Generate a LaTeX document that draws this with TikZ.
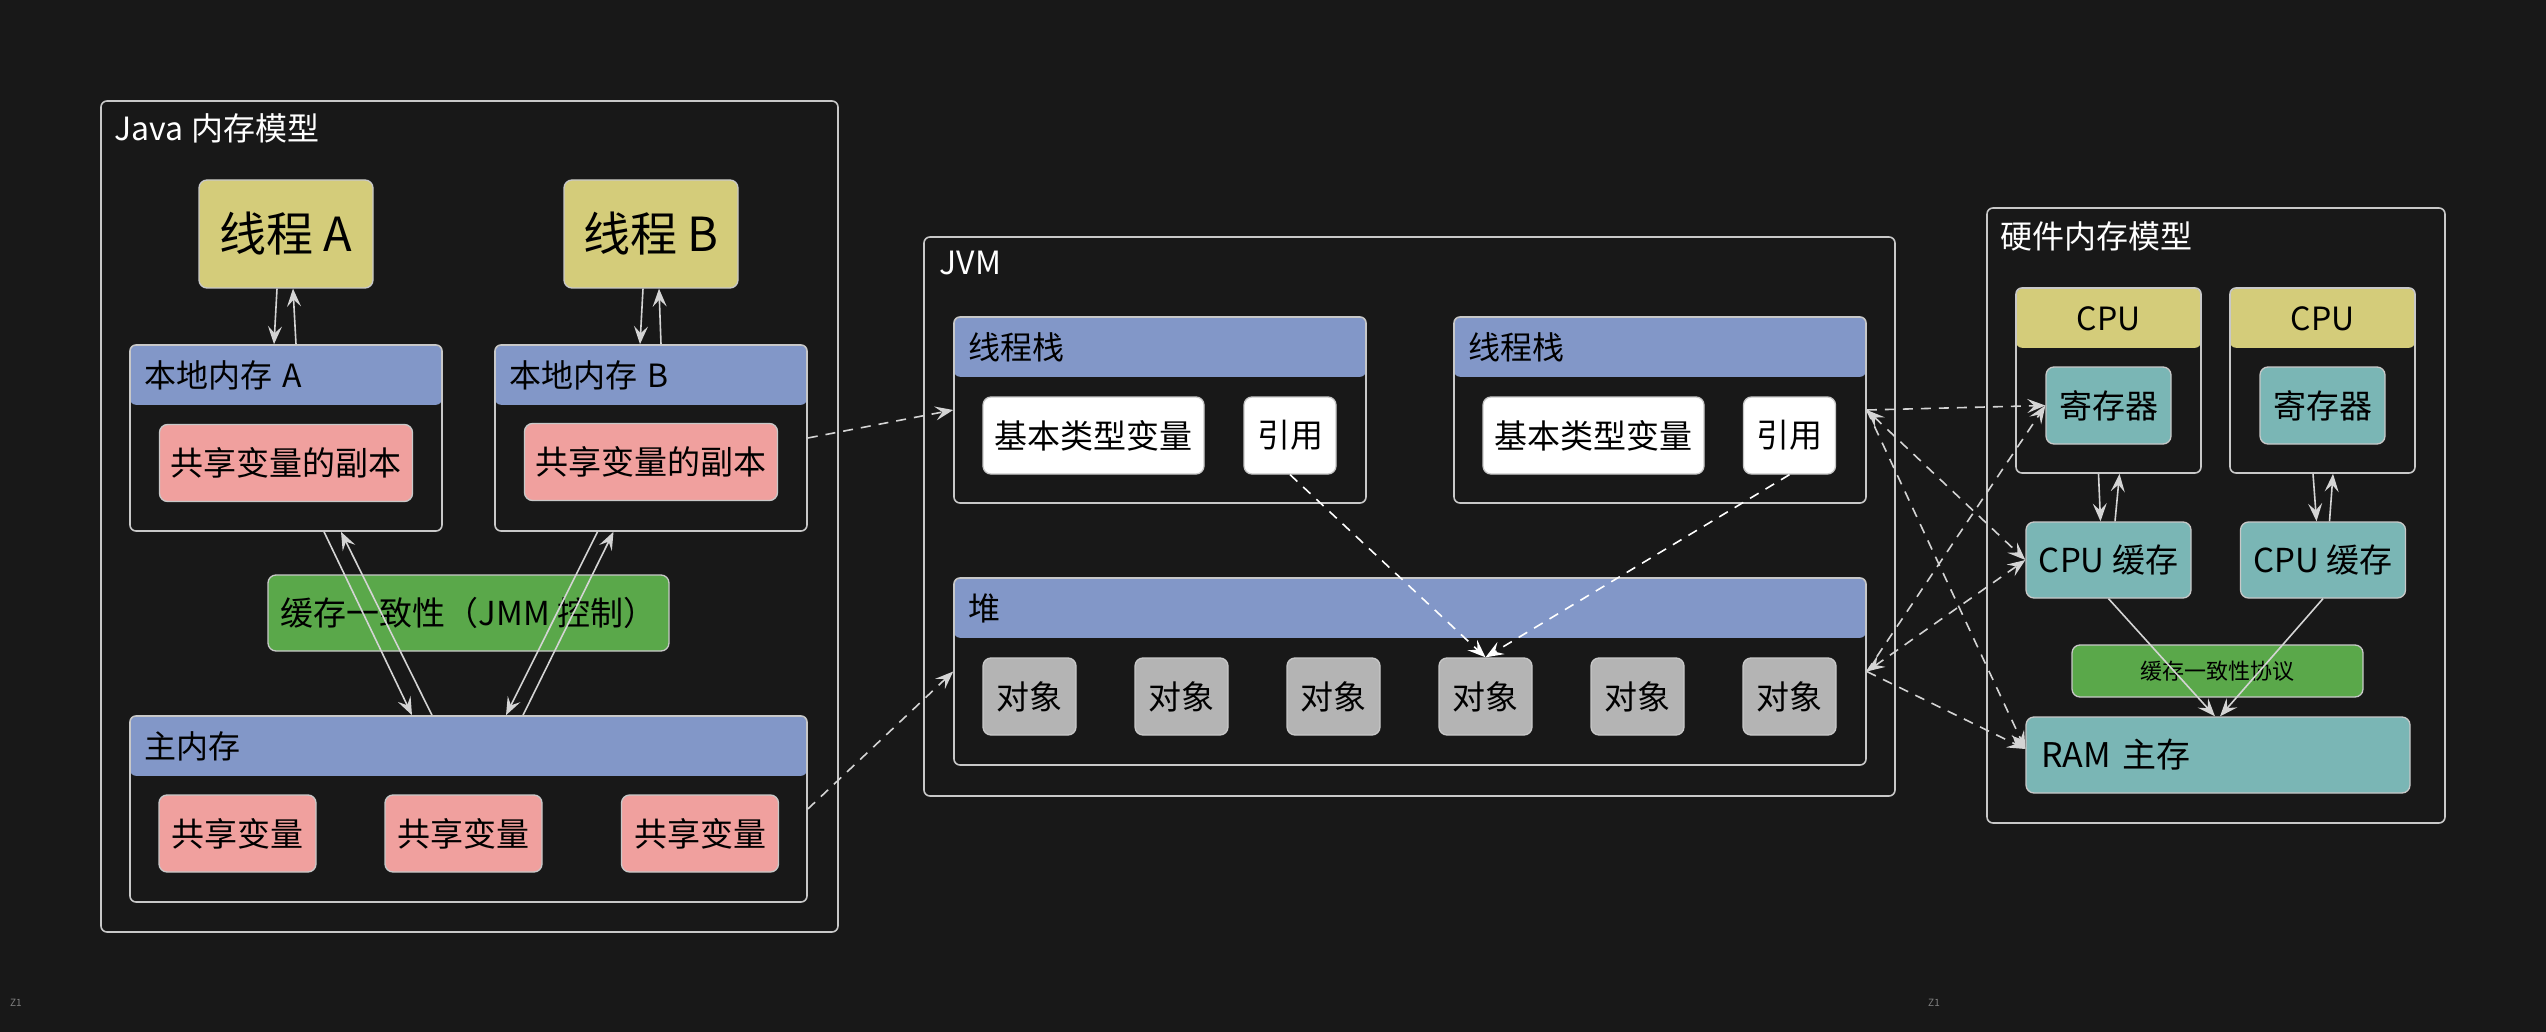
\documentclass[tikz,border=0pt]{standalone}
\usepackage{fontspec}
\usepackage{tikz}
\usetikzlibrary{arrows.meta}
\newfontfamily\cjk{Noto Sans CJK SC}
\definecolor{canvas}{RGB}{24,24,24}
\definecolor{edge}{RGB}{200,200,200}
\definecolor{wire}{RGB}{212,212,212}
\definecolor{threadyellow}{RGB}{212,204,122}
\definecolor{bandblue}{RGB}{130,151,200}
\definecolor{sharedpink}{RGB}{240,160,158}
\definecolor{syncgreen}{RGB}{90,168,74}
\definecolor{hwteal}{RGB}{122,182,181}
\definecolor{objgray}{RGB}{180,180,180}

\begin{document}
\begin{tikzpicture}[
                x=1pt, y=-1pt,
                group/.style={draw=edge, line width=1.6pt, rounded corners=6pt},
                band/.style={fill=bandblue, rounded corners=6pt, anchor=north,
                  minimum height=59pt, inner xsep=14pt, align=left,
                  font=\cjk\fontsize{32}{32}\selectfont},
                cpuband/.style={band, fill=threadyellow, align=center,
                  minimum width=185pt, font=\cjk\fontsize{32}{32}\selectfont},
                grouptitle/.style={anchor=west, text=white, inner sep=0pt,
                  font=\cjk\fontsize{32}{32}\selectfont},
                box/.style={draw=edge, line width=1.3pt, rounded corners=8pt,
                  minimum height=77pt, inner sep=0pt,
                  font=\cjk\fontsize{33}{33}\selectfont},
                thread/.style={box, fill=threadyellow, minimum width=174pt,
                  minimum height=108pt, font=\cjk\fontsize{47}{47}\selectfont},
                shared/.style={box, fill=sharedpink},
                sync/.style={box, fill=syncgreen},
                whitebox/.style={box, fill=white},
                object/.style={box, fill=objgray, minimum width=93pt},
                hw/.style={box, fill=hwteal},
                line width=1.6pt,
                >={Stealth[length=18pt, width=14pt, inset=7pt]},
                flow/.style={draw=wire, ->},
                link/.style={draw=wire, dash pattern=on 10pt off 8pt, ->},
              ]
              \fill[canvas] (0,0) rectangle (2546,1032) ;
              \useasboundingbox (0,0) rectangle (2546,1032) ;

              \node[group, minimum width=737pt, minimum height=831pt] at (469.5,516.5) (javamm) {} ;
              \node[grouptitle] at (114,128) (javatitle) {Java 内存模型} ;
              \node[thread] at (286,234) (thrA) {线程 A} ;
              \node[thread] at (651,234) (thrB) {线程 B} ;
              \node[band, text width=284pt] at (286,345) (locAhead) {本地内存 A} ;
              \node[group, minimum width=312pt, minimum height=186pt] at (286,438) (locA) {} ;
              \node[band, text width=284pt] at (651,345) (locBhead) {本地内存 B} ;
              \node[group, minimum width=312pt, minimum height=186pt] at (651,438) (locB) {} ;
              \node[shared, minimum width=253pt] at (286,463) (copyA) {共享变量的副本} ;
              \node[shared, minimum width=253pt] at (651,462) (copyB) {共享变量的副本} ;
              \node[sync, minimum width=401pt, minimum height=76pt] at (468.5,613) (jmmsync) {缓存一致性（JMM 控制）} ;
              \node[band, text width=649pt] at (468.5,716) (mainhead) {主内存} ;
              \node[group, minimum width=677pt, minimum height=186pt] at (468.5,809) (mainmem) {} ;
              \foreach \x [count=\i] in {237.5,463.5,700}
                \node[shared, minimum width=157pt] at (\x,833.5) (var\i) {共享变量} ;

              \node[group, minimum width=971pt, minimum height=559pt] at (1409.5,516.5) (jvm) {} ;
              \node[grouptitle] at (939,263) (jvmtitle) {JVM} ;
              \node[band, text width=384pt] at (1160,317) (stackAhead) {线程栈} ;
              \node[group, minimum width=412pt, minimum height=186pt] at (1160,410) (stackA) {} ;
              \node[band, text width=384pt] at (1660,317) (stackBhead) {线程栈} ;
              \node[group, minimum width=412pt, minimum height=186pt] at (1660,410) (stackB) {} ;
              \node[whitebox, minimum width=221pt] at (1093.5,435.5) (basicA) {基本类型变量} ;
              \node[whitebox, minimum width=92pt] at (1290,435.5) (refA) {引用} ;
              \node[whitebox, minimum width=221pt] at (1593.5,435.5) (basicB) {基本类型变量} ;
              \node[whitebox, minimum width=92pt] at (1789.5,435.5) (refB) {引用} ;
              \node[band, text width=884pt] at (1410,578) (heaphead) {堆} ;
              \node[group, minimum width=912pt, minimum height=187pt] at (1410,671.5) (heap) {} ;
              \foreach \i in {1,...,6}
                \node[object] at ({877.5+152*\i},696.5) (obj\i) {对象} ;

              \node[group, minimum width=458pt, minimum height=615pt] at (2216,515.5) (hwmm) {} ;
              \node[grouptitle] at (2000,236) (hwtitle) {硬件内存模型} ;
              \node[cpuband] at (2108.5,288) (cpuAhead) {CPU} ;
              \node[group, minimum width=185pt, minimum height=185pt] at (2108.5,380.5) (cpuA) {} ;
              \node[cpuband] at (2322.5,288) (cpuBhead) {CPU} ;
              \node[group, minimum width=185pt, minimum height=185pt] at (2322.5,380.5) (cpuB) {} ;
              \node[hw, minimum width=125pt] at (2108.5,405.5) (regA) {寄存器} ;
              \node[hw, minimum width=125pt] at (2322.5,405.5) (regB) {寄存器} ;
              \node[hw, minimum width=165pt, minimum height=76pt] at (2108.5,560) (cacheA) {CPU 缓存} ;
              \node[hw, minimum width=165pt, minimum height=76pt] at (2323,560) (cacheB) {CPU 缓存} ;
              \node[sync, minimum width=291pt, minimum height=52pt, font=\cjk\fontsize{22}{22}\selectfont] at (2217.5,671) (protocol) {缓存一致性协议} ;
              \node[hw, minimum height=76pt, text width=354pt, inner xsep=15pt, align=left, font=\cjk\fontsize{34}{34}\selectfont] at (2218,755) (ram) {RAM 主存} ;

              \node[text=gray, font=\cjk\fontsize{10}{10}\selectfont, inner sep=0pt] at (16,1003) (zoneA) {Z1} ;
              \node[text=gray, font=\cjk\fontsize{10}{10}\selectfont, inner sep=0pt] at (1934,1003) (zoneB) {Z1} ;

              \draw[flow] ([xshift=-9pt]thrA.south) -- ([xshift=-12pt]locA.north) ;
              \draw[flow] ([xshift=10pt]locA.north) -- ([xshift=7pt]thrA.south) ;
              \draw[flow] ([xshift=-8pt]thrB.south) -- ([xshift=-11pt]locB.north) ;
              \draw[flow] ([xshift=10pt]locB.north) -- ([xshift=8pt]thrB.south) ;
              \draw[flow] ([xshift=38pt]locA.south) -- ([xshift=-56.5pt]mainmem.north) ;
              \draw[flow] ([xshift=-36.5pt]mainmem.north) -- ([xshift=55pt]locA.south) ;
              \draw[flow] ([xshift=-53.5pt]locB.south) -- ([xshift=37.5pt]mainmem.north) ;
              \draw[flow] ([xshift=54.5pt]mainmem.north) -- ([xshift=-37.5pt]locB.south) ;
              \draw[flow] ([xshift=-10pt]cpuA.south) -- ([xshift=-8pt]cacheA.north) ;
              \draw[flow] ([xshift=6.5pt]cacheA.north) -- ([xshift=11pt]cpuA.south) ;
              \draw[flow] ([xshift=-9.5pt]cpuB.south) -- ([xshift=-6.5pt]cacheB.north) ;
              \draw[flow] ([xshift=6.5pt]cacheB.north) -- ([xshift=10.5pt]cpuB.south) ;
              \draw[flow] (cacheA.south) -- ([xshift=-3pt]ram.north) ;
              \draw[flow] (cacheB.south) -- ([xshift=2pt]ram.north) ;

              \draw[link] (locB.east) -- (stackA.west) ;
              \draw[link] (mainmem.east) -- (heap.west) ;
              \draw[link, draw=white] (refA.south) -- (obj4.north) ;
              \draw[link, draw=white] (refB.south) -- (obj4.north) ;
              \draw[link] (stackB.east) -- (regA.west) ;
              \draw[link, <->] (stackB.east) -- (cacheA.west) ;
              \draw[link] (stackB.east) -- ([yshift=6pt]ram.west) ;
              \draw[link] (heap.east) -- (regA.west) ;
              \draw[link, <->] (heap.east) -- (cacheA.west) ;
              \draw[link] (heap.east) -- ([yshift=6pt]ram.west) ;
              \end{tikzpicture}
\end{document}
